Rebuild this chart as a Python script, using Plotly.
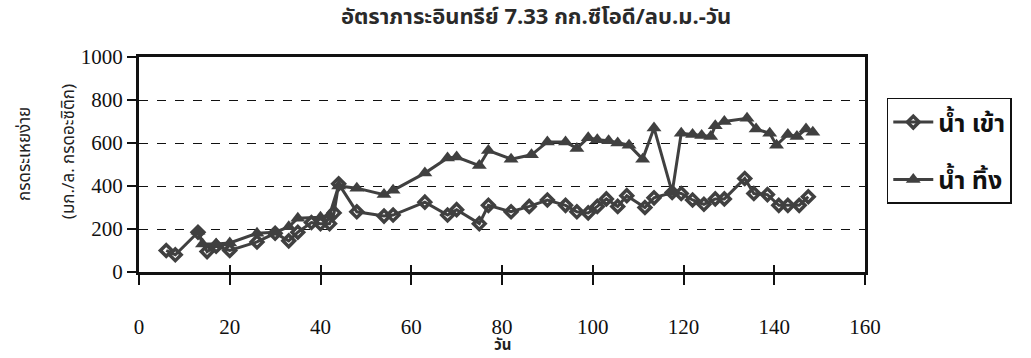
import plotly.graph_objects as go

# Volatile acids, influent (น้ำ เข้า)
day_in = [6, 8, 13, 15, 17, 20, 26, 30, 33, 35, 38, 40, 42, 43, 44, 48, 54, 56,
          63, 68, 70, 75, 77, 82, 86, 90, 94, 96.5, 99, 101, 103, 105.5, 107.5,
          111.5, 113.5, 117.5, 119.5, 122, 124.5, 127, 129, 133.5, 135.5, 138.5,
          141, 143, 145.5, 147.5]
va_in = [100, 80, 185, 95, 120, 100, 140, 180, 145, 185, 230, 225, 225, 275, 410,
         280, 260, 265, 325, 265, 290, 225, 310, 280, 305, 335, 310, 280, 275,
         305, 340, 305, 355, 300, 345, 370, 365, 335, 315, 340, 340, 435, 365,
         360, 310, 310, 310, 350]

# Volatile acids, effluent (น้ำ ทิ้ง)
day_out = [13, 14, 17, 20, 26, 30, 33, 35, 40, 42, 44, 48, 54, 56, 63, 68, 70,
           75, 77, 82, 86.5, 90, 94, 96.5, 99, 101, 103.5, 105.5, 108, 111, 113.5,
           117.5, 119.5, 122, 124, 126, 127, 129, 134, 136, 139, 140.5, 143, 145,
           147, 148.5]
va_out = [190, 130, 130, 135, 180, 185, 210, 250, 255, 265, 400, 390, 360, 380,
          460, 530, 535, 495, 565, 525, 545, 605, 605, 575, 625, 615, 610, 600,
          590, 525, 670, 370, 645, 640, 635, 630, 680, 700, 715, 665, 645, 590,
          640, 630, 665, 650]

x_ticks = [0, 20, 40, 60, 80, 100, 120, 140, 160]
y_ticks = [0, 200, 400, 600, 800, 1000]

title_text = "อัตราภาระอินทรีย์ 7.33 กก.ซีโอดี/ลบ.ม.-วัน"
y_title_1 = "กรดระเหยง่าย"
y_title_2 = "(มก./ล. กรดอะซิติก)"
x_title = "วัน"
name_in = "น้ำ เข้า"
name_out = "น้ำ ทิ้ง"

ink = "#404040"
thai = "Noto Sans Thai, Noto Sans, sans-serif"
num_font = dict(family="Liberation Serif", size=21, color="#111")

fig = go.Figure()
fig.add_trace(go.Scatter(
    x=day_in, y=va_in, name=name_in, mode="lines+markers", legendgroup="a",
    line=dict(color=ink, width=3),
    marker=dict(symbol="diamond-open", size=9, color=ink, line=dict(width=3.5, color=ink)),
))
fig.add_trace(go.Scatter(
    x=day_out, y=va_out, name=name_out, mode="lines+markers", legendgroup="b",
    line=dict(color=ink, width=3),
    marker=dict(symbol="triangle-up", size=13, color=ink),
))
# invisible trace carrying the inward half of the crossing x ticks
fig.add_trace(go.Scatter(x=[0, 160], y=[0, 0], xaxis="x2", mode="none",
                         showlegend=False, hoverinfo="skip"))

fig.update_layout(
    width=1031, height=358,
    margin=dict(l=139, r=166, t=57, b=86),
    paper_bgcolor="white", plot_bgcolor="white",
    showlegend=True,
    title=dict(text="<b>" + title_text + "</b>", x=0.52, xanchor="center",
               y=0.955, yanchor="middle",
               font=dict(size=22, color="#2a2a2a", family=thai, weight="bold")),
    xaxis=dict(
        range=[0, 160], tickvals=x_ticks, ticks="outside", ticklen=10,
        tickwidth=1.5, tickcolor="#111", showgrid=False, zeroline=False,
        showline=True, linecolor="#111", linewidth=3, mirror=True,
        tickfont=num_font, ticklabelstandoff=24,
    ),
    xaxis2=dict(
        range=[0, 160], tickvals=x_ticks, ticks="inside", ticklen=7,
        tickwidth=1.5, tickcolor="#111", overlaying="x", anchor="y",
        showticklabels=False, showgrid=False, zeroline=False, showline=False,
    ),
    yaxis=dict(
        range=[0, 1000], tickvals=y_ticks, ticks="outside", ticklen=9,
        tickwidth=1.5, tickcolor="#111", showgrid=True, gridcolor="#111",
        griddash="dash", gridwidth=1.3, zeroline=False,
        showline=True, linecolor="#111", linewidth=3, mirror=True,
        tickfont=num_font,
    ),
    legend=dict(
        x=1.03, y=0.81, xanchor="left", yanchor="top",
        bordercolor="#111", borderwidth=1.5, bgcolor="white",
        font=dict(size=25, color="#111", family=thai, weight="bold"),
        tracegroupgap=22, traceorder="grouped", itemwidth=40,
    ),
    annotations=[
        dict(text=y_title_1, textangle=-90, xref="paper", yref="paper",
             x=-0.158, y=0.55, xanchor="center", yanchor="middle",
             showarrow=False, font=dict(size=17, color="#222", family=thai)),
        dict(text=y_title_2, textangle=-90, xref="paper", yref="paper",
             x=-0.097, y=0.56, xanchor="center", yanchor="middle",
             showarrow=False, font=dict(size=17, color="#222", family=thai)),
        dict(text="<b>" + x_title + "</b>", xref="x", yref="paper",
             x=80, y=-0.343, xanchor="center", yanchor="middle",
             showarrow=False, font=dict(size=15, color="#222", family=thai)),
    ],
)

fig.write_html("out.html")
